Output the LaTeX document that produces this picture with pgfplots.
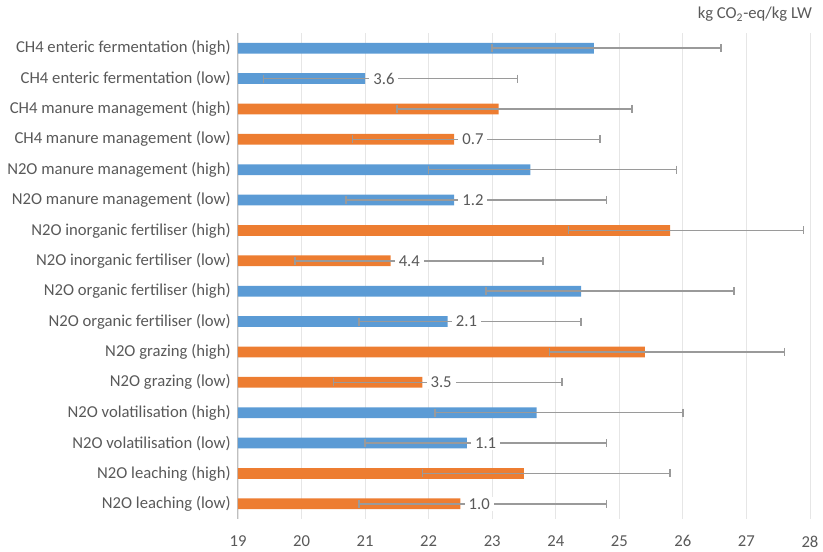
\documentclass[border=0pt]{standalone}
\usepackage{fontspec}
\setmainfont{Carlito}
\usepackage{pgfplots}
\pgfplotsset{compat=1.18}
\usepackage{pgfplotstable}

\definecolor{barblue}{HTML}{5B9BD5}
\definecolor{barorange}{HTML}{ED7D31}
\definecolor{txtgray}{HTML}{595959}
\definecolor{errgray}{HTML}{9A9A9A}
\definecolor{gridgray}{HTML}{E6E6E6}
\definecolor{axgray}{HTML}{BFBFBF}

% y = row (0 = top), x = bar value, ep/em = error bar plus/minus
\pgfplotstableread{
y  x     ep   em
0  24.6  2.0  1.6
1  21.0  2.4  1.6
4  23.6  2.3  1.6
5  22.4  2.4  1.7
8  24.4  2.4  1.5
9  22.3  2.1  1.4
12 23.7  2.3  1.6
13 22.6  2.2  1.6
}\blueseries
\pgfplotstableread{
y  x     ep   em
2  23.1  2.1  1.6
3  22.4  2.3  1.6
6  25.8  2.1  1.6
7  21.4  2.4  1.5
10 25.4  2.2  1.5
11 21.9  2.2  1.4
14 23.5  2.3  1.6
15 22.5  2.3  1.6
}\orangeseries
% labels on the low bars: difference high - low
\pgfplotstableread{
y  x     lab
1  21.0  3.6
3  22.4  0.7
5  22.4  1.2
7  21.4  4.4
9  22.3  2.1
11 21.9  3.5
13 22.6  1.1
15 22.5  1.0
}\diffs

\begin{document}
\begin{tikzpicture}
\useasboundingbox (-178.5pt,-24.75pt) rectangle (438.75pt,389.25pt);
\begin{axis}[
    scale only axis,
    width=429pt, height=364.5pt,
    xbar, bar width=8pt, bar shift=0pt,
    xmin=19, xmax=28,
    xtick={19,...,28},
    ymin=-0.5, ymax=15.5, y dir=reverse,
    ytick={0,...,15},
    yticklabels={
      CH4 enteric fermentation (high),
      CH4 enteric fermentation (low),
      CH4 manure management (high),
      CH4 manure management (low),
      N2O manure management (high),
      N2O manure management (low),
      N2O inorganic fertiliser (high),
      N2O inorganic fertiliser (low),
      N2O organic fertiliser (high),
      N2O organic fertiliser (low),
      N2O grazing (high),
      N2O grazing (low),
      N2O volatilisation (high),
      N2O volatilisation (low),
      N2O leaching (high),
      N2O leaching (low)},
    axis lines*=left,
    x axis line style={draw=none},
    y axis line style={draw=axgray, line width=0.75pt},
    major tick length=0pt,
    xmajorgrids, grid style={gridgray, line width=0.6pt},
    tick label style={font=\fontsize{12.5}{15}\selectfont, text=txtgray},
    /pgf/number format/assume math mode=true,
    xticklabel style={yshift=-9pt},
    yticklabel style={xshift=-2pt},
]
\addplot[fill=barblue, draw=none,
  error bars/.cd, x dir=both, x explicit,
  error bar style={errgray, line width=1.2pt},
  error mark options={rotate=90, errgray, mark size=3pt, line width=1.2pt}]
  table[x=x, y=y, x error plus=ep, x error minus=em] {\blueseries};
\addplot[fill=barorange, draw=none,
  error bars/.cd, x dir=both, x explicit,
  error bar style={errgray, line width=1.2pt},
  error mark options={rotate=90, errgray, mark size=3pt, line width=1.2pt}]
  table[x=x, y=y, x error plus=ep, x error minus=em] {\orangeseries};
\addplot[draw=none, mark=none, xbar=0pt, fill=none,
  nodes near coords, point meta=explicit symbolic,
  every node near coord/.append style={anchor=west, xshift=3pt,
    fill=white, inner xsep=3pt, inner ysep=1pt, text=txtgray,
    font=\fontsize{12.5}{15}\selectfont}]
  table[x=x, y=y, meta=lab] {\diffs};
\end{axis}
\node[anchor=east, text=txtgray, font=\fontsize{12.5}{15}\selectfont]
  at (434pt,378.5pt) {kg CO\textsubscript{2}-eq/kg LW};
\end{tikzpicture}
\end{document}
